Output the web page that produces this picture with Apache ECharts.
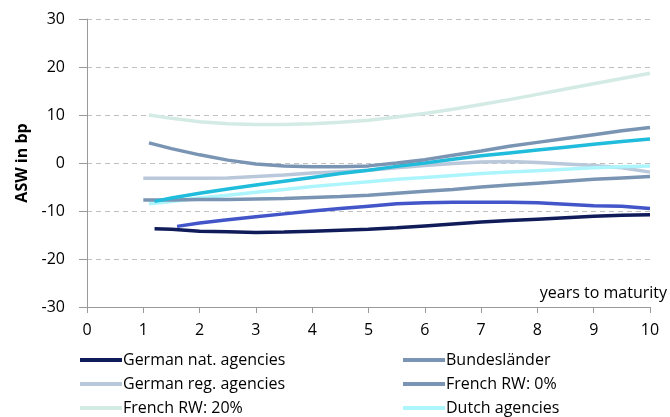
<!DOCTYPE html>
<html><head><meta charset="utf-8">
<script src="https://cdn.jsdelivr.net/npm/echarts@6/dist/echarts.min.js"></script>
<style>html,body{margin:0;padding:0;background:#fff}#c{width:670px;height:417px}</style>
</head><body><div id="c"></div>
<script>
var FONT = 'Open Sans';
var yTicks = [-30, -20, -10, 0, 10, 20, 30];
var xTicks = [0,1,2,3,4,5,6,7,8,9,10];
var xAxisTitle = 'years to maturity';
var yAxisTitle = 'ASW in bp';

var yrsFull = [1.5,2,2.5,3,3.5,4,4.5,5,5.5,6,6.5,7,7.5,8,8.5,9,9.5,10];

var germanNatX = [1.2].concat(yrsFull);
var germanNat  = [-13.7,-13.8,-14.2,-14.3,-14.5,-14.4,-14.2,-14.0,-13.8,-13.5,-13.1,-12.7,-12.3,-12.0,-11.7,-11.4,-11.1,-10.9,-10.8];

var bundesX = [1.1].concat(yrsFull);
var bundes  = [4.2,3.0,1.7,0.6,-0.2,-0.6,-0.8,-0.8,-0.6,0.0,0.7,1.6,2.5,3.5,4.3,5.1,5.9,6.7,7.4];

var germanRegX = [1.0].concat(yrsFull);
var germanReg  = [-3.2,-3.2,-3.2,-3.1,-2.8,-2.5,-2.1,-1.8,-1.5,-1.0,-0.5,-0.1,0.2,0.3,0.1,-0.2,-0.5,-1.0,-1.9];

var frenchRW0X = [1.0].concat(yrsFull);
var frenchRW0  = [-7.7,-7.7,-7.6,-7.6,-7.5,-7.4,-7.2,-7.0,-6.7,-6.3,-5.9,-5.5,-5.0,-4.6,-4.2,-3.8,-3.4,-3.1,-2.8];

var frenchRW20X = [1.1].concat(yrsFull);
var frenchRW20  = [10.0,9.3,8.6,8.2,8.0,8.0,8.2,8.5,8.9,9.6,10.3,11.2,12.2,13.2,14.3,15.4,16.5,17.6,18.7];

var dutchX = [1.1].concat(yrsFull);
var dutch  = [-8.5,-8.0,-7.3,-6.7,-6.1,-5.5,-4.9,-4.4,-3.9,-3.4,-3.0,-2.6,-2.2,-1.9,-1.6,-1.3,-1.0,-0.8,-0.6];

var cyanX = [1.2].concat(yrsFull);
var cyan  = [-8.0,-7.3,-6.3,-5.4,-4.6,-3.8,-3.0,-2.2,-1.5,-0.7,0.0,0.8,1.5,2.1,2.7,3.3,3.9,4.5,5.0];

var royalX = [1.6].concat(yrsFull.slice(1));
var royal  = [-13.2,-12.5,-11.8,-11.2,-10.6,-10.0,-9.5,-9.0,-8.5,-8.3,-8.2,-8.2,-8.2,-8.3,-8.6,-8.9,-9.0,-9.5];

function pairs(xs, ys){ return xs.map(function(x,i){ return [x, ys[i]]; }); }
function ser(name, xs, ys, color, w, z){
  return {name:name, type:'line', data:pairs(xs, ys), symbol:'none', smooth:false,
          lineStyle:{color:color, width:w, cap:'butt'}, itemStyle:{color:color}, z:z, silent:true, animation:false};
}

var chart = echarts.init(document.getElementById('c'), null, {renderer:'canvas'});
function legendCfg(left, names){
  return {type:'plain', orient:'vertical', left:left, top:346, height:80, icon:'rect',
    itemWidth:42, itemHeight:4, itemGap:6, selectedMode:false, data:names,
    textStyle:{fontFamily:FONT, fontSize:16, color:'#000', lineHeight:18, padding:[0,0,0,-4]}};
}
chart.setOption({
  animation:false,
  grid:{left:87, right:20, top:19, bottom:110},
  legend:[
    legendCfg(75, ['German nat. agencies','German reg. agencies','French RW: 20%']),
    legendCfg(398, ['Bundesländer','French RW: 0%','Dutch agencies'])
  ],
  graphic:[{type:'text', right:3, top:285, silent:true,
    style:{text:xAxisTitle, fontFamily:FONT, fontSize:16, fill:'#000'}}],
  xAxis:{type:'value', min:0, max:10, interval:1,
    axisLine:{onZero:false, lineStyle:{color:'#999', width:1}}, axisTick:{length:6, lineStyle:{color:'#999'}},
    axisLabel:{fontFamily:FONT, fontSize:16, color:'#000', margin:15, formatter:function(v){return xTicks.indexOf(v)>=0?String(v):'';}},
    splitLine:{show:false}},
  yAxis:{type:'value', min:yTicks[0], max:yTicks[yTicks.length-1], interval:10,
    name:yAxisTitle, nameLocation:'middle', nameGap:56, nameRotate:90,
    nameTextStyle:{fontFamily:FONT, fontSize:16, fontWeight:'bold', color:'#000'},
    axisLine:{show:true, lineStyle:{color:'#999'}}, axisTick:{show:true, length:8, lineStyle:{color:'#999'}},
    axisLabel:{fontFamily:FONT, fontSize:16, color:'#000', margin:22},
    splitLine:{show:true, lineStyle:{color:'#c0c0c0', type:[5,4], width:1}}},
  series:[
    ser('French RW: 20%', frenchRW20X, frenchRW20, '#d3ebe4', 3.5, 2),
    ser('German reg. agencies', germanRegX, germanReg, '#b9c8da', 3.5, 2),
    ser('Dutch agencies', dutchX, dutch, '#adf5fc', 3.5, 3),
    ser('French RW: 0%', frenchRW0X, frenchRW0, '#7a95b4', 3.5, 3),
    ser('Cyan', cyanX, cyan, '#1fbcdc', 3.5, 4),
    ser('Bundesländer', bundesX, bundes, '#7a95b4', 3.5, 5),
    ser('Royal', royalX, royal, '#4356c9', 3.5, 4),
    ser('German nat. agencies', germanNatX, germanNat, '#101c5a', 3.5, 5)
  ]
});
</script></body></html>
